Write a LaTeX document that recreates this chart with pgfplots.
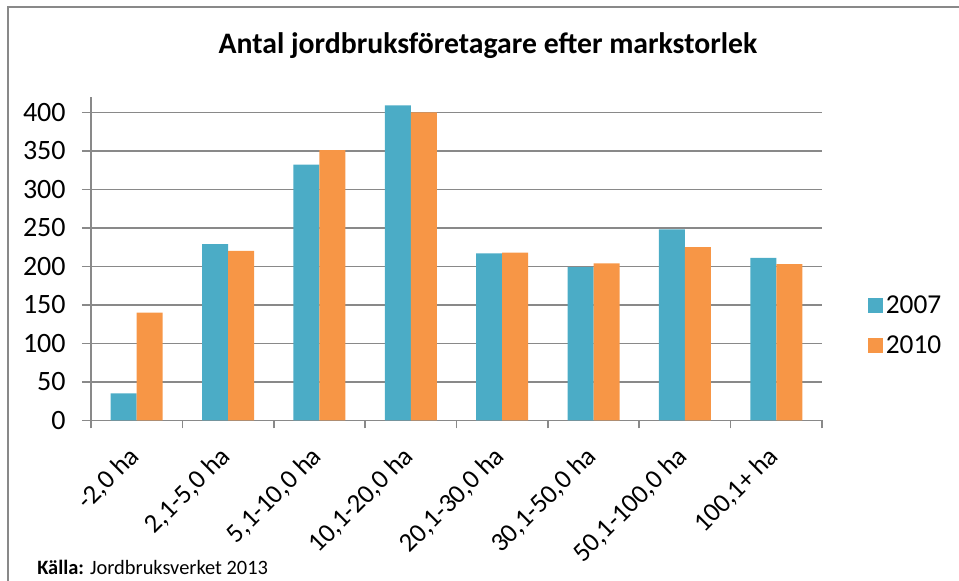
\documentclass[border=0pt]{standalone}
\usepackage{pgfplots}
\pgfplotsset{compat=1.18}
\usepackage{fontspec}
\setmainfont{Carlito}
\definecolor{cA}{HTML}{4BACC6}
\definecolor{cB}{HTML}{F79646}
\definecolor{gridc}{HTML}{898989}
\begin{document}
\begin{tikzpicture}
\path[use as bounding box] (0,0) rectangle (719.25pt,435.75pt);
\draw[gridc, line width=1.5pt] (6pt,0) -- (6pt,430.5pt) -- (719.25pt,430.5pt);
\node[font=\fontsize{22.3}{26}\selectfont\bfseries] at (366pt,401.25pt) {Antal jordbruksföretagare efter markstorlek};
\node[anchor=base west, inner sep=0pt, font=\fontsize{15.3}{18}\selectfont] at (27.75pt,4.5pt) {\textbf{Källa:} Jordbruksverket 2013};
\begin{axis}[
  at={(68.25pt,120.5pt)}, anchor=south west,
  scale only axis, width=548.25pt, height=242.5pt,
  ybar=0pt, bar width=19.5pt,
  xmin=-0.5, xmax=7.5, ymin=0, ymax=420,
  axis lines*=left,
  axis line style={gridc, line width=1.2pt},
  xtick={0,...,7},
  xticklabels={-2{,}0 ha,2{,}1-5{,}0 ha,5{,}1-10{,}0 ha,10{,}1-20{,}0 ha,20{,}1-30{,}0 ha,30{,}1-50{,}0 ha,50{,}1-100{,}0 ha,100{,}1+ ha},
  major x tick style={draw=none},
  minor xtick={-0.5,0.5,...,7.5},
  minor x tick style={gridc, line width=1.2pt},
  minor tick length=6pt,
  ytick={0,50,...,400},
  ymajorgrids,
  major grid style={gridc, line width=1.2pt},
  y tick style={gridc, line width=1.2pt},
  major tick length=6.75pt,
  tick align=outside,
  tick pos=left,
  yticklabel style={font=\fontsize{21}{25}\selectfont, xshift=-8.75pt},
  xticklabel style={font=\fontsize{20}{24}\selectfont, xshift=-7.2pt, yshift=-10pt, rotate=45, anchor=north east, inner sep=1pt},
  /pgf/number format/assume math mode=true,
  legend style={at={(1.115,0.294)}, anchor=center, draw=none, fill=none,
    font=\fontsize{20.5}{24}\selectfont, row sep=11pt,
    legend cell align=left},
  legend image code/.code={\fill[#1] (0pt,-5.6pt) rectangle (11.25pt,5.6pt);},
]
\addplot[fill=cA, draw=none] coordinates {(0,35) (1,229) (2,332) (3,409) (4,217) (5,199) (6,248) (7,211)};
\addplot[fill=cB, draw=none] coordinates {(0,140) (1,220) (2,351) (3,400) (4,218) (5,204) (6,225) (7,203)};
\legend{2007,2010}
\end{axis}
\end{tikzpicture}
\end{document}
